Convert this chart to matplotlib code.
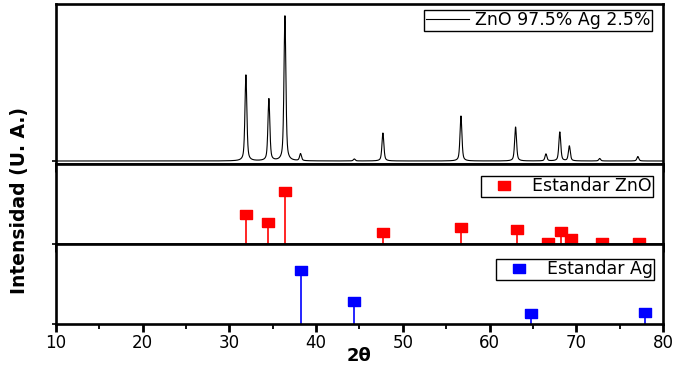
import numpy as np
import matplotlib
matplotlib.use('Agg')
import matplotlib.pyplot as plt
from matplotlib.ticker import MultipleLocator

# Measured pattern, ZnO 97.5% Ag 2.5% (peak positions in 2theta, heights in a.u.)
sample_pos = [31.9, 34.55, 36.4, 38.2, 44.4, 47.7, 56.7, 63.0, 66.5, 68.1, 69.2, 72.7, 77.1]
sample_int = [86, 62, 145, 7, 2, 28, 45, 34, 7, 29, 15, 2.5, 4.5]

# Reference cards
zno_pos = [31.88, 34.5, 36.4, 47.75, 56.75, 63.2, 66.7, 68.25, 69.4, 73.0, 77.2]
zno_int = [55, 40, 100, 21, 31, 27, 2.5, 23, 11, 2, 3]

ag_pos = [38.27, 44.4, 64.8, 77.9]
ag_int = [100, 43, 19, 21]

x_ticks = [10, 20, 30, 40, 50, 60, 70, 80]

plt.rcParams['font.family'] = ['DejaVu Sans']

# wide-ish rectangle marker like the original
rect_marker = [(-1, -0.72), (1, -0.72), (1, 0.72), (-1, 0.72), (-1, -0.72)]


def build_pattern(tt, pos, heights, hwhm=0.13, eta=0.55):
    # pseudo-Voigt peaks on a flat baseline
    y = np.zeros_like(tt)
    for p, h in zip(pos, heights):
        d = (tt - p) / hwhm
        lor = 1.0 / (1.0 + d ** 2)
        gau = np.exp(-np.log(2) * d ** 2)
        y += h * (eta * lor + (1 - eta) * gau)
    return y


def style_axis(ax, ylim):
    ax.set_xlim(10, 80)
    ax.set_ylim(*ylim)
    ax.xaxis.set_major_locator(MultipleLocator(10))
    ax.xaxis.set_minor_locator(MultipleLocator(5))
    ax.tick_params(axis='x', which='major', direction='out', length=6, width=2,
                   labelsize=12, pad=1.5)
    ax.tick_params(axis='x', which='minor', direction='out', length=3.5, width=1.3)
    ax.set_yticks([0])
    ax.set_yticklabels([])
    ax.tick_params(axis='y', direction='out', length=3, width=1.2)
    for s in ax.spines.values():
        s.set_linewidth(1.9)


def add_legend(ax, anchor):
    leg = ax.legend(loc='upper right', bbox_to_anchor=anchor, fontsize=12.5,
                    fancybox=False, edgecolor='black', framealpha=1,
                    borderpad=0.08, borderaxespad=0, handlelength=2.5,
                    handletextpad=0.35, markerscale=1.0)
    leg.get_frame().set_linewidth(1.0)
    return leg


fig = plt.figure(figsize=(6.82, 3.69), dpi=100)
left, right = 56 / 682, 663 / 682
ax1 = fig.add_axes([left, 1 - 164 / 369, right - left, 160 / 369])
ax2 = fig.add_axes([left, 1 - 243.5 / 369, right - left, 79.5 / 369], sharex=ax1)
ax3 = fig.add_axes([left, 1 - 323.5 / 369, right - left, 80 / 369], sharex=ax1)

# top: measured pattern
tt = np.arange(10, 80, 0.01)
ax1.plot(tt, build_pattern(tt, sample_pos, sample_int), color='black', lw=0.8,
         label='ZnO 97.5% Ag 2.5%')
style_axis(ax1, (-3, 157))
ax1.tick_params(axis='x', labelbottom=False)
add_legend(ax1, ((652 - 56) / 607, 1 - 6 / 160))

# middle: ZnO card
ax2.vlines(zno_pos, 0, zno_int, color='#ff0000', lw=1.2)
ax2.plot(zno_pos, zno_int, ls='none', marker=rect_marker, ms=9, color='#ff0000',
         label='Estandar ZnO')
style_axis(ax2, (0, 150))
ax2.tick_params(axis='x', labelbottom=False)
add_legend(ax2, ((653 - 56) / 607, 1 - 12 / 79.5))

# bottom: Ag card
ax3.vlines(ag_pos, 0, ag_int, color='#0000ff', lw=1.2)
ax3.plot(ag_pos, ag_int, ls='none', marker=rect_marker, ms=9, color='#0000ff',
         label='Estandar Ag')
style_axis(ax3, (0, 150))
ax3.set_xticks(x_ticks)
add_legend(ax3, ((654 - 56) / 607, 1 - 15.5 / 80))

fig.text(359 / 682, 1 - 356 / 369, '2θ', ha='center', va='center',
         fontsize=13, fontweight='bold')
fig.text(20 / 682, 1 - 200 / 369, 'Intensidad (U. A.)', rotation=90,
         ha='center', va='center', fontsize=13.5, fontweight='bold')

fig.savefig('out.png', dpi=100)
